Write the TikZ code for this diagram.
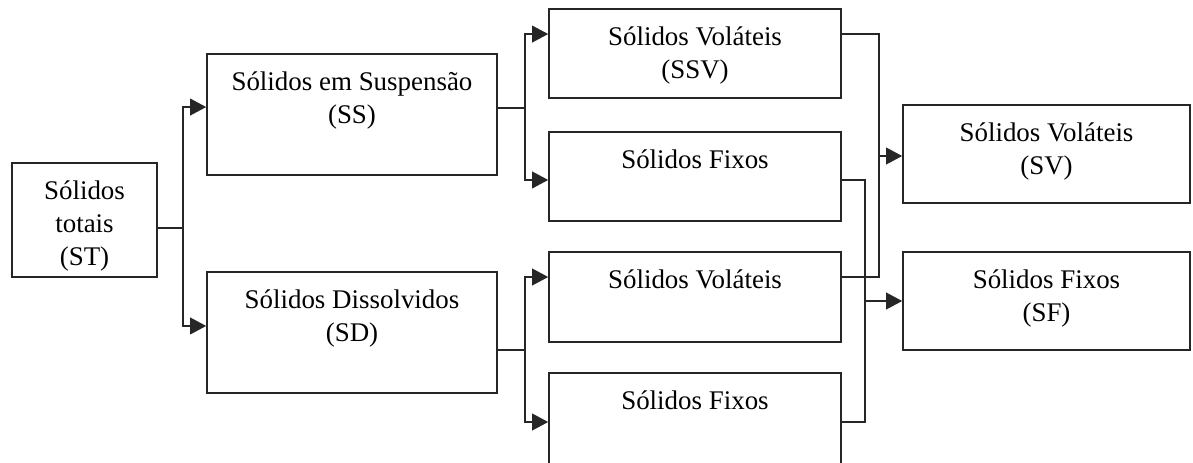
\documentclass[tikz,border=0pt]{standalone}
\usepackage{fontspec}
\setmainfont{Liberation Serif}
\usetikzlibrary{arrows.meta, positioning}

\begin{document}
\begin{tikzpicture}[x=0.75pt, y=-0.75pt,
            box/.style={draw=black!85, line width=1.2pt, rectangle, inner sep=0pt,
                label={[lbl]north:#1}},
            lbl/.style={anchor=north, align=center, inner sep=0pt, label distance=-13.6pt,
                font=\fontsize{20.2}{24.75}\selectfont},
            line/.style={draw=black!85, line width=1.2pt},
            arrow/.style={line, -{Triangle[length=12pt, width=12.5pt]}}]
            \useasboundingbox (0,0) rectangle (1193,462);

            % Column 1
            \node (st) [box={Sólidos\\totais\\(ST)}, minimum width=108.75pt, minimum height=85.5pt] at (84.5,220) {};

            % Column 2
            \node (ss) [box={Sólidos em Suspensão\\(SS)}, minimum width=217.5pt, minimum height=90.75pt] at (352,114.5) {};
            \node (sd) [box={Sólidos Dissolvidos\\(SD)}, minimum width=217.5pt, minimum height=90.75pt] at (352,332.5) {};

            % Column 3
            \node (ssv) [box={Sólidos Voláteis\\(SSV)}, minimum width=219pt, minimum height=66.75pt] at (695,53.5) {};
            \node (ssf) [box={Sólidos Fixos}, minimum width=219pt, minimum height=66.75pt] at (695,176.5) {};
            \node (sdv) [box={Sólidos Voláteis}, minimum width=219pt, minimum height=67.5pt] at (695,297) {};
            \node (sdf) [box={Sólidos Fixos}, minimum width=219pt, minimum height=75pt] at (695,423) {};

            % Column 4
            \node (sv) [box={Sólidos Voláteis\\(SV)}, minimum width=215.25pt, minimum height=73.5pt] at (1046.5,154) {};
            \node (sf) [box={Sólidos Fixos\\(SF)}, minimum width=215.25pt, minimum height=73.5pt] at (1046.5,301) {};

            % Junctions
            \coordinate (j1) at (183,228);
            \coordinate (j2) at (525,108);
            \coordinate (j3) at (525,350);
            \coordinate (jv) at (879,156);
            \coordinate (jf) at (865,301);

            % Connections
            \draw [line] (st.east |- j1) -- (j1);
            \draw [arrow] (j1) |- ([yshift=5.6pt]ss.west);
            \draw [arrow] (j1) |- ([yshift=4.9pt]sd.west);

            \draw [line] (ss.east |- j2) -- (j2);
            \draw [arrow] (j2) |- ([yshift=14.6pt]ssv.west);
            \draw [arrow] (j2) |- ([yshift=-2.6pt]ssf.west);

            \draw [line] (sd.east |- j3) -- (j3);
            \draw [arrow] (j3) |- ([yshift=15pt]sdv.west);
            \draw [arrow] (j3) |- ([yshift=0.75pt]sdf.west);

            \draw [line] ([yshift=14.6pt]ssv.east) -| (jv) |- ([yshift=15pt]sdv.east);
            \draw [line] ([yshift=-2.6pt]ssf.east) -| (jf) |- ([yshift=0.75pt]sdf.east);
            \draw [arrow] (jv) -- (sv.west |- jv);
            \draw [arrow] (jf) -- (sf.west |- jf);
        \end{tikzpicture}
\end{document}
